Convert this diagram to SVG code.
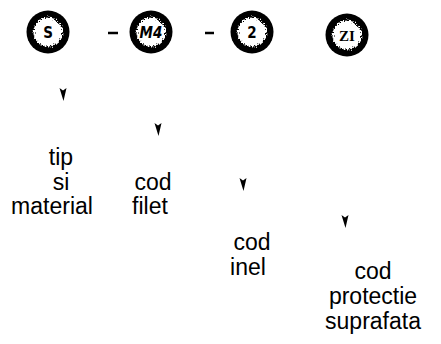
<svg xmlns="http://www.w3.org/2000/svg" width="441" height="344" viewBox="0 0 441 344">
<defs>
<filter id="rough" x="-50%" y="-50%" width="200%" height="200%">
<feTurbulence type="fractalNoise" baseFrequency="0.7" numOctaves="2" seed="3" result="n"/>
<feDisplacementMap in="SourceGraphic" in2="n" scale="7" xChannelSelector="R" yChannelSelector="G"/>
</filter>
<symbol id="badge" overflow="visible">
<circle cx="0" cy="0" r="21.5" fill="#000"/>
<circle cx="0" cy="0" r="14.5" fill="#fff" filter="url(#rough)"/>
</symbol>
</defs>
<style>
.lbl{font-family:"Liberation Sans",Arial,sans-serif;font-size:23px;fill:#000;text-anchor:middle}
.in{font-family:"DejaVu Sans Condensed","DejaVu Sans",sans-serif;font-weight:bold;font-size:15px;fill:#000;text-anchor:middle}
.dash{stroke:#000;stroke-width:2.5}
.ah{fill:#000}
</style>
<rect width="441" height="344" fill="#fff"/>
<g id="node-s"><use href="#badge" x="48" y="32"/><text class="in" x="48" y="37.5">S</text></g>
<g id="node-m4"><use href="#badge" x="151" y="32"/><text class="in" x="151" y="37.5" font-style="italic">M4</text></g>
<g id="node-2"><use href="#badge" x="252" y="32"/><text class="in" x="252" y="37.5">2</text></g>
<g id="node-zi"><use href="#badge" x="347" y="35"/><text class="in" x="347" y="40.5" style="font-family:'Liberation Serif',serif">ZI</text></g>
<g id="dashes"><line class="dash" x1="108" y1="33" x2="118" y2="33"/><line class="dash" x1="205" y1="33" x2="214" y2="33"/></g>
<g id="connectors">
<path class="ah" d="M59.5 88 L63 90.5 L66.5 88 L63.5 101 Z"/>
<path class="ah" d="M154.5 123 L158 125.5 L161.5 123 L158.5 136 Z"/>
<path class="ah" d="M239.5 178 L243 180.5 L246.5 178 L243.5 191 Z"/>
<path class="ah" d="M341.5 215 L345 217.5 L348.5 215 L345.5 228 Z"/>
</g>
<g id="label-1"><text class="lbl" x="61" y="165">tip</text><text class="lbl" x="61" y="189.5">si</text><text class="lbl" x="52" y="214">material</text></g>
<g id="label-2"><text class="lbl" x="153" y="189.5">cod</text><text class="lbl" x="150" y="214">filet</text></g>
<g id="label-3"><text class="lbl" x="252" y="250">cod</text><text class="lbl" x="248" y="275">inel</text></g>
<g id="label-4"><text class="lbl" x="373" y="279">cod</text><text class="lbl" x="373" y="304">protectie</text><text class="lbl" x="373" y="329">suprafata</text></g>
</svg>
